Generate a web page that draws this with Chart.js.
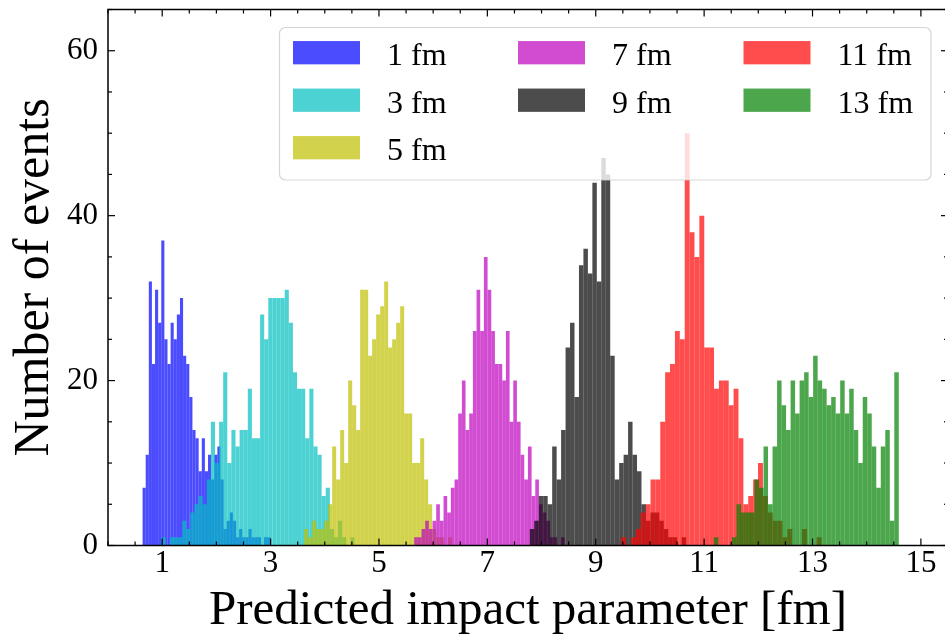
<!DOCTYPE html>
<html>
<head>
<meta charset="utf-8">
<script src="https://cdn.jsdelivr.net/npm/chart.js@4/dist/chart.umd.min.js"></script>
<style>
  html, body { margin: 0; padding: 0; background: #fff; overflow: hidden; }
  canvas { display: block; }
</style>
</head>
<body>
<canvas id="chart" width="948" height="641"></canvas>
<script>
// Impact-parameter predictions, one histogram per true impact parameter
const seriesLabels = ['1 fm', '3 fm', '5 fm', '7 fm', '9 fm', '11 fm', '13 fm'];

// first bin edge and bin width of every histogram [fm]
const binStart = [0.638, 0.990, 3.620, 5.650, 7.784, 9.469, 11.181];
const binWidth = [0.0575, 0.0757, 0.0738, 0.0677, 0.0824, 0.0902, 0.0832];

// event counts per bin
const counts1fm  = [7, 11, 32, 22, 31, 27, 37, 25, 22, 27, 25, 28, 30, 23, 22, 18, 14, 13, 9, 13, 9, 11, 8, 11, 12, 8, 2, 3, 4, 3, 1, 2, 1, 1, 2, 1, 1, 1, 0, 1, 1];
const counts3fm  = [1, 0, 1, 1, 1, 3, 2, 4, 5, 6, 5, 8, 15, 10, 15, 21, 10, 14, 12, 14, 14, 19, 13, 13, 28, 25, 30, 30, 30, 30, 31, 27, 21, 19, 19, 13, 19, 12, 11, 6, 7, 2, 1, 3, 1, 0, 1];
const counts5fm  = [2, 1, 3, 2, 2, 3, 5, 12, 8, 14, 10, 20, 17, 14, 31, 31, 23, 25, 28, 29, 32, 24, 25, 27, 29, 16, 16, 10, 10, 13, 8, 5, 2, 1, 1, 0, 1];
const counts7fm  = [1, 1, 2, 3, 2, 3, 5, 3, 6, 4, 7, 8, 16, 20, 14, 16, 26, 31, 26, 35, 31, 26, 22, 22, 20, 26, 15, 20, 15, 11, 8, 12, 6, 8, 5, 4, 3, 1, 1, 0, 1];
const counts9fm  = [2, 3, 6, 6, 5, 12, 8, 14, 24, 27, 18, 34, 36, 33, 44, 32, 47, 45, 23, 8, 10, 11, 15, 11, 9, 5, 3, 4, 4, 3, 2, 1, 1, 0, 1];
const counts11fm = [1, 0, 1, 2, 4, 5, 8, 8, 15, 21, 22, 26, 25, 50, 38, 35, 40, 24, 24, 19, 20, 20, 17, 19, 13, 5, 6, 8, 10, 6, 4, 3, 3, 1, 2, 0, 0, 2, 0, 0, 1];
const counts13fm = [1, 0, 0, 0, 1, 5, 4, 4, 4, 8, 7, 12, 5, 12, 20, 17, 14, 20, 16, 20, 21, 18, 23, 20, 19, 17, 18, 16, 20, 16, 19, 14, 10, 18, 16, 12, 7, 12, 14, 3, 21];

// axis ticks
const xTickValues = [1, 3, 5, 7, 9, 11, 13, 15];
const yTickValues = [0, 20, 40, 60];
const xMinorStep = 0.5;
const yMinorStep = 5;
const xLimits = [0, 15.5];
const yLimits = [0, 65];

const allCounts = [counts1fm, counts3fm, counts5fm, counts7fm, counts9fm, counts11fm, counts13fm];

// matplotlib single-letter colours at alpha 0.7
const palette = [
  'rgba(0, 0, 255, 0.7)',
  'rgba(0, 191, 191, 0.7)',
  'rgba(191, 191, 0, 0.7)',
  'rgba(191, 0, 191, 0.7)',
  'rgba(0, 0, 0, 0.7)',
  'rgba(255, 0, 0, 0.7)',
  'rgba(0, 128, 0, 0.7)'
];

const serif = '"Liberation Serif", "Times New Roman", serif';

// each histogram gets its own (hidden) x scale so the bar width follows its own bin width
const axisId = i => (i === 0 ? 'x' : 'x' + i);

const datasets = allCounts.map((counts, i) => ({
  label: seriesLabels[i],
  data: counts.map((n, k) => ({ x: binStart[i] + (k + 0.5) * binWidth[i], y: n })),
  backgroundColor: palette[i],
  borderWidth: 0,
  inflateAmount: 0,
  barPercentage: 1,
  categoryPercentage: 1,
  grouped: false,
  xAxisID: axisId(i),
  order: allCounts.length - i
}));

const scales = {
  x: {
    type: 'linear',
    min: xLimits[0],
    max: xLimits[1],
    offset: false,
    grid: { display: false, drawTicks: false },
    border: { display: false },
    afterBuildTicks: s => { s.ticks = xTickValues.map(v => ({ value: v })); },
    afterFit: s => { s.height = 95.5; s.paddingLeft = 0; s.paddingRight = 0; },
    ticks: {
      color: '#000',
      padding: 0,
      maxRotation: 0,
      autoSkip: false,
      font: { family: serif, size: 31, lineHeight: 1.2 }
    },
    title: {
      display: true,
      text: 'Predicted impact parameter [fm]',
      color: '#000',
      padding: { top: 0, bottom: 0 },
      font: { family: serif, size: 49, lineHeight: 1.2 }
    }
  },
  y: {
    type: 'linear',
    min: yLimits[0],
    max: yLimits[1],
    grid: { display: false, drawTicks: false },
    border: { display: false },
    afterBuildTicks: s => { s.ticks = yTickValues.map(v => ({ value: v })); },
    afterFit: s => { s.width = 108; s.paddingTop = 0; s.paddingBottom = 0; },
    ticks: {
      color: '#000',
      padding: 10,
      font: { family: serif, size: 31, lineHeight: 1.2 }
    },
    title: {
      display: true,
      text: 'Number of events',
      color: '#000',
      padding: { top: 5, bottom: 0 },
      font: { family: serif, size: 50, lineHeight: 1.2 }
    }
  }
};
for (let i = 1; i < allCounts.length; i++) {
  scales[axisId(i)] = { type: 'linear', display: false, min: xLimits[0], max: xLimits[1], offset: false };
}

// legend drawn inside the axes, over the bars, three columns filled top to bottom
const insideLegend = {
  id: 'insideLegend',
  afterDatasetsDraw(chart) {
    const { ctx } = chart;
    const box = { x: 279.5, y: 27.5, w: 651.5, h: 152.5, r: 6 };
    const colX = [293, 518, 743.5];
    const rowY = [52.7, 100.2, 147.7];
    const patchW = 67, patchH = 23.3, textGap = 94;
    const n = chart.data.datasets.length, ncol = colX.length;
    const perCol = [];
    for (let c = 0; c < ncol; c++) perCol.push(Math.floor(n / ncol) + (c < n % ncol ? 1 : 0));

    ctx.save();
    ctx.beginPath();
    ctx.roundRect(box.x, box.y, box.w, box.h, box.r);
    ctx.fillStyle = 'rgba(255, 255, 255, 0.8)';
    ctx.fill();
    ctx.lineWidth = 1.2;
    ctx.strokeStyle = 'rgba(204, 204, 204, 0.8)';
    ctx.stroke();

    ctx.font = '32px ' + serif;
    ctx.textAlign = 'left';
    ctx.textBaseline = 'alphabetic';
    let idx = 0;
    for (let c = 0; c < ncol; c++) {
      for (let r = 0; r < perCol[c]; r++, idx++) {
        const ds = chart.data.datasets[idx];
        const cy = rowY[r];
        ctx.fillStyle = ds.backgroundColor;
        ctx.fillRect(colX[c], cy - patchH / 2, patchW, patchH);
        ctx.fillStyle = '#000';
        ctx.fillText(ds.label, colX[c] + textGap, cy + 12.5);
      }
    }
    ctx.restore();
  }
};

// axes frame with inward major and minor ticks on all four sides
const frame = {
  id: 'frame',
  afterDraw(chart) {
    const { ctx, chartArea: a } = chart;
    const x = chart.scales.x, y = chart.scales.y;
    const line = (x1, y1, x2, y2) => { ctx.beginPath(); ctx.moveTo(x1, y1); ctx.lineTo(x2, y2); ctx.stroke(); };
    ctx.save();
    ctx.strokeStyle = '#000';
    ctx.lineWidth = 1.2;
    const isMajor = (v, list) => list.some(t => Math.abs(t - v) < 1e-9);
    for (let v = xLimits[0]; v <= xLimits[1] + 1e-9; v += xMinorStep) {
      const px = x.getPixelForValue(v);
      const len = isMajor(v, xTickValues) ? 7 : 4;
      line(px, a.bottom, px, a.bottom - len);
      line(px, a.top, px, a.top + len);
    }
    for (let v = yLimits[0]; v <= yLimits[1] + 1e-9; v += yMinorStep) {
      const py = y.getPixelForValue(v);
      const len = isMajor(v, yTickValues) ? 7 : 4;
      line(a.left, py, a.left + len, py);
      line(a.right, py, a.right - len, py);
    }
    ctx.lineWidth = 1.5;
    ctx.strokeRect(a.left, a.top, a.right - a.left, a.bottom - a.top);
    ctx.restore();
  }
};

new Chart(document.getElementById('chart'), {
  type: 'bar',
  data: { datasets },
  options: {
    responsive: false,
    animation: false,
    devicePixelRatio: 1,
    layout: { padding: { left: 0, right: 0, top: 9.5, bottom: 0 } },
    plugins: {
      legend: { display: false },
      tooltip: { enabled: false }
    },
    scales
  },
  plugins: [insideLegend, frame]
});
</script>
</body>
</html>
